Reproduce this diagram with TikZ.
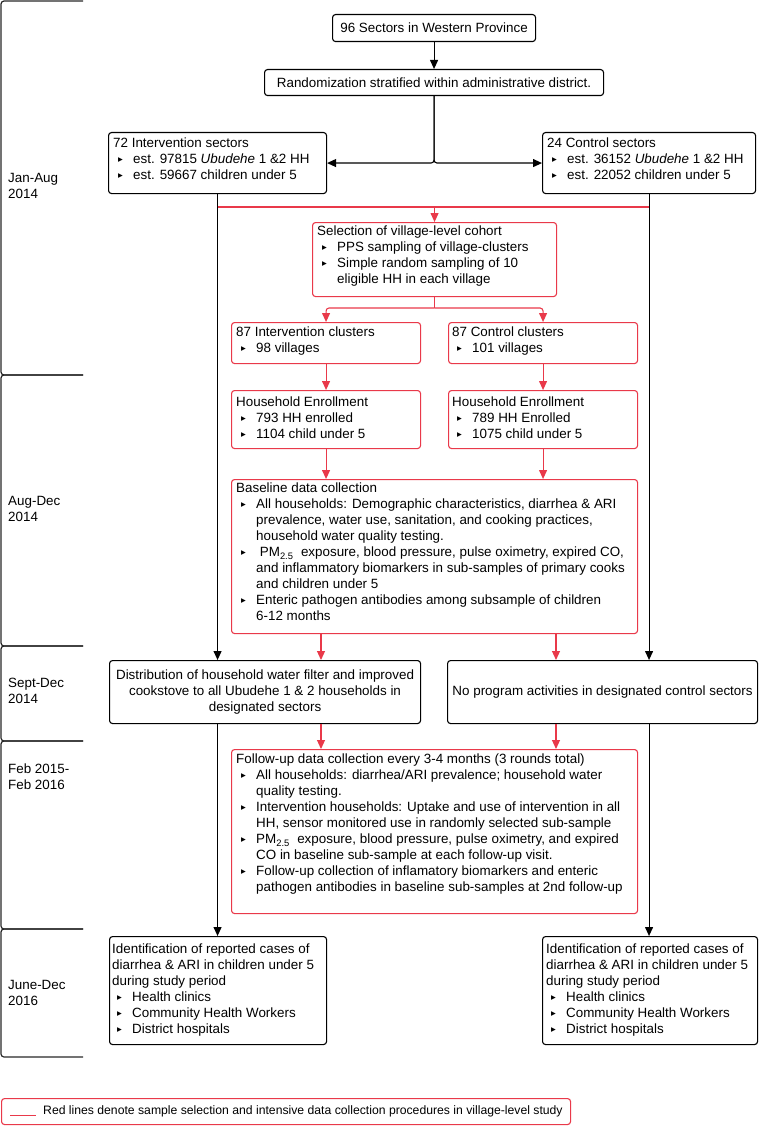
\documentclass[tikz,border=0pt]{standalone}
\usepackage{fontspec}
\setmainfont{Liberation Sans}
\newfontfamily\symf{DejaVu Sans}
\usetikzlibrary{arrows.meta,calc}
\definecolor{redl}{RGB}{233,57,74}
\definecolor{tlc}{RGB}{40,40,40}
\newcommand{\bul}{\makebox[20pt][l]{\hspace{5pt}\raisebox{1.6pt}{\symf\fontsize{9.5}{9.5}\selectfont ▸}}}
\newcommand{\ind}{\hspace*{20pt}}
\begin{document}
\begin{tikzpicture}[x=1pt,y=-1pt,
  font=\fontsize{13.4}{16}\selectfont,
  bbox/.style={draw=black, line width=1.1pt, rounded corners=3pt, inner sep=0pt, anchor=north west, align=center},
  rbox/.style={bbox, draw=redl},
  txt/.style={anchor=north west, inner sep=0pt, align=left},
  blk/.style={draw=black, line width=1.1pt},
  rln/.style={draw=redl, line width=1.1pt},
  arr/.style={-{Triangle[length=9pt,width=8pt]}},
  tl/.style={draw=tlc, line width=1.2pt, rounded corners=3pt}]
\useasboundingbox (0,0) rectangle (760,1126);

% timeline
\foreach \a/\b in {1/375,375/646,646/741,741/929,929/1057}
  \draw[tl] (83,\a) -- (1,\a) -- (1,\b) -- (83,\b);
\node[txt] (t1) at (8,173) {Jan-Aug\\2014};
\node[txt] (t2) at (8,496) {Aug-Dec\\2014};
\node[txt] (t3) at (8,678) {Sept-Dec\\2014};
\node[txt] (t4) at (8,764) {Feb 2015-\\Feb 2016};
\node[txt] (t5) at (8,980) {June-Dec\\2016};

% boxes
\node[bbox, minimum width=203, minimum height=27] (b1) at (332,14) {96 Sectors in Western Province};
\node[bbox, minimum width=339, minimum height=26] (b2) at (264,69) {Randomization stratified within administrative district.};
\node[bbox, minimum width=218, minimum height=61] (b3) at (108,132) {};
\node[txt] (b3t) at (113,138) {72 Intervention sectors\\
\bul est. 97815 \textit{Ubudehe} 1 \&2 HH\\
\bul est. 59667 children under 5};
\node[bbox, minimum width=213, minimum height=61] (b4) at (542,132) {};
\node[txt] (b4t) at (547,138) {24 Control sectors\\
\bul est. 36152 \textit{Ubudehe} 1 \&2 HH\\
\bul est. 22052 children under 5};

\node[rbox, minimum width=244, minimum height=74] (sel) at (312,222) {};
\node[txt] (selt) at (317,226) {Selection of village-level cohort\\
\bul PPS sampling of village-clusters\\
\bul Simple random sampling of 10\\
\ind eligible HH in each village};

\node[rbox, minimum width=189, minimum height=41] (cl) at (231,322) {};
\node[txt] (clt) at (236,327) {87 Intervention clusters\\ \bul 98 villages};
\node[rbox, minimum width=189, minimum height=41] (cr) at (448,322) {};
\node[txt] (crt) at (452,327) {87 Control clusters\\ \bul 101 villages};

\node[rbox, minimum width=189, minimum height=58] (el) at (231,390) {};
\node[txt] (elt) at (236,397) {Household Enrollment\\ \bul 793 HH enrolled\\ \bul 1104 child under 5};
\node[rbox, minimum width=189, minimum height=58] (er) at (448,390) {};
\node[txt] (ert) at (452,397) {Household Enrollment\\ \bul 789 HH Enrolled\\ \bul 1075 child under 5};

\node[rbox, minimum width=406, minimum height=154] (base) at (231,479) {};
\node[txt] (baset) at (236,483) {Baseline data collection\\
\bul All households: Demographic characteristics, diarrhea \& ARI\\
\ind prevalence, water use, sanitation, and cooking practices,\\
\ind household water quality testing.\\
\bul \ PM\textsubscript{2.5}\ \ exposure, blood pressure, pulse oximetry, expired CO,\\
\ind and inflammatory biomarkers in sub-samples of primary cooks\\
\ind and children under 5\\
\bul Enteric pathogen antibodies among subsample of children\\
\ind 6-12 months};

\node[bbox, minimum width=311, minimum height=63] (sdl) at (109,660) {Distribution of household water filter and improved\\ cookstove to all Ubudehe 1 \& 2 households in\\ designated sectors};
\node[bbox, minimum width=310, minimum height=63] (sdr) at (447,660) {No program activities in designated control sectors};

\node[rbox, minimum width=406, minimum height=164] (fu) at (231,749) {};
\node[txt] (fut) at (236,754) {Follow-up data collection every 3-4 months (3 rounds total)\\
\bul All households: diarrhea/ARI prevalence; household water\\
\ind quality testing.\\
\bul Intervention households: Uptake and use of intervention in all\\
\ind HH, sensor monitored use in randomly selected sub-sample\\
\bul PM\textsubscript{2.5}\ \ exposure, blood pressure, pulse oximetry, and expired\\
\ind CO in baseline sub-sample at each follow-up visit.\\
\bul Follow-up collection of inflamatory biomarkers and enteric\\
\ind pathogen antibodies in baseline sub-samples at 2nd follow-up};

\node[bbox, minimum width=217, minimum height=108] (idl) at (109,936) {};
\node[txt] (idlt) at (112,944) {Identification of reported cases of\\
diarrhea \& ARI in children under 5\\
during study period\\
\bul Health clinics\\ \bul Community Health Workers\\ \bul District hospitals};
\node[bbox, minimum width=215, minimum height=108] (idr) at (542,936) {};
\node[txt] (idrt) at (546,944) {Identification of reported cases of\\
diarrhea \& ARI in children under 5\\
during study period\\
\bul Health clinics\\ \bul Community Health Workers\\ \bul District hospitals};

% legend
\node[rbox, minimum width=569, minimum height=26] (leg) at (1,1098) {};
\coordinate (l1) at (10,1115);
\coordinate (l2) at (36,1115);
\draw[draw=redl, line width=1pt] (l1) -- (l2);
\node[anchor=west, inner sep=0pt, font=\fontsize{12.2}{14}\selectfont] (legt) at (43,1111) {Red lines denote sample selection and intensive data collection procedures in village-level study};

% connectors black
\draw[blk,arr] (b1.south) -- (b2.north);
\draw[blk,arr,rounded corners=3pt] (b2.south) |- (b3.east);
\draw[blk,arr,rounded corners=3pt] (b2.south) |- (b4.west);
\draw[blk,arr] (b3.south) -- (b3.south |- sdl.north);
\draw[blk,arr] (b4.south) -- (b4.south |- sdr.north);
\draw[blk,arr] (b3.south |- sdl.south) -- (b3.south |- idl.north);
\draw[blk,arr] (b4.south |- sdr.south) -- (b4.south |- idr.north);

% connectors red
\coordinate (ry) at (0,207);
\coordinate (ry2) at (0,308);
\coordinate (xr1) at (321,0);
\coordinate (xr2) at (556,0);
\draw[rln] (b3.south |- ry) -- (b4.south |- ry);
\draw[rln,arr] (sel.north |- ry) -- (sel.north);
\draw[rln] (sel.south) -- (sel.south |- ry2);
\draw[rln,arr,rounded corners=3pt] (sel.south |- ry2) -| (cl.north);
\draw[rln,arr,rounded corners=3pt] (sel.south |- ry2) -| (cr.north);
\draw[rln,arr] (cl.south) -- (el.north);
\draw[rln,arr] (cr.south) -- (er.north);
\draw[rln,arr] (el.south) -- (el.south |- base.north);
\draw[rln,arr] (er.south) -- (er.south |- base.north);
\draw[rln,arr] (xr1 |- base.south) -- (xr1 |- sdl.north);
\draw[rln,arr] (xr2 |- base.south) -- (xr2 |- sdr.north);
\draw[rln,arr] (xr1 |- sdl.south) -- (xr1 |- fu.north);
\draw[rln,arr] (xr2 |- sdr.south) -- (xr2 |- fu.north);
\end{tikzpicture}
\end{document}
